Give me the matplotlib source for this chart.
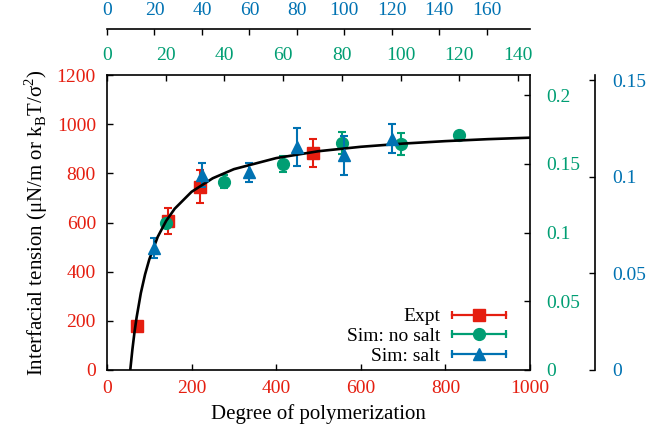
import matplotlib
matplotlib.use("Agg")
import matplotlib.pyplot as plt
from matplotlib.lines import Line2D
from matplotlib.legend_handler import HandlerBase

plt.rcParams["font.family"] = ["Liberation Serif", "DejaVu Serif"]
plt.rcParams["font.size"] = 14
plt.rcParams["mathtext.fontset"] = "custom"
plt.rcParams["mathtext.rm"] = "Liberation Serif"

RED   = "#e51e10"
GREEN = "#009e73"
BLUE  = "#0072b2"

# ── Data ─────────────────────────────────────────────────────
# experiment (bottom / left axes)
expt_N     = [70, 145, 219, 486]
expt_gamma = [179, 606, 746, 882]
expt_err   = [0, 51, 68, 58]

# simulation, no salt (green top / right axes)
nosalt_x   = [20, 40, 60, 80, 100, 120]
nosalt_y   = [0.1072, 0.1370, 0.1496, 0.1651, 0.1642, 0.1712]
nosalt_err = [0.002, 0.0048, 0.0058, 0.0082, 0.0079, 0.002]

# simulation, salt (blue outer top / right axes)
salt_x   = [20, 40, 60, 80, 100, 120]
salt_y   = [0.0630, 0.1009, 0.1022, 0.1155, 0.1110, 0.1197]
salt_err = [0.0053, 0.0060, 0.0047, 0.0099, 0.0101, 0.0076]

# fitted curve
fit_N     = [55, 60, 65, 70, 80, 90, 100, 120, 140, 160, 200, 250, 300,
             400, 500, 600, 700, 800, 900, 1000]
fit_gamma = [0, 83, 154, 214, 313, 389, 450, 542, 607, 656, 725, 780, 817,
             862, 890, 908, 921, 931, 939, 945]

xticks_main = [0, 200, 400, 600, 800, 1000]
yticks_main = [0, 200, 400, 600, 800, 1000, 1200]
xticks_green = [0, 20, 40, 60, 80, 100, 120, 140]
yticks_green = [0, 0.05, 0.1, 0.15, 0.2]
xticks_blue = [0, 20, 40, 60, 80, 100, 120, 140, 160]
yticks_blue = [0, 0.05, 0.1, 0.15]


class CapHandler(HandlerBase):
    """gnuplot-like legend sample: horizontal bar with end caps + marker"""
    def create_artists(self, legend, orig_handle, xdescent, ydescent,
                       width, height, fontsize, trans):
        c = orig_handle.get_color()
        y = height / 2 - ydescent
        x0, x1 = -xdescent, width - xdescent
        bar = Line2D([x0, x1], [y, y], color=c, lw=1.6)
        caps = Line2D([x0, x1], [y, y], ls="", marker="|", ms=6,
                      mew=1.6, color=c)
        mk = Line2D([(x0 + x1) / 2], [y], ls="", color=c,
                    marker=orig_handle.get_marker(),
                    ms=orig_handle.get_markersize())
        for a in (bar, caps, mk):
            a.set_transform(trans)
        return [bar, caps, mk]


fig = plt.figure(figsize=(6.68, 4.38), dpi=100)
rect = [107 / 668, 68 / 438, 423 / 668, 295 / 438]

# main axes: red
ax = fig.add_axes(rect)
ax.set_xlim(0, 1000)
ax.set_ylim(0, 1200)
ax.set_xticks(xticks_main)
ax.set_yticks(yticks_main)
ax.tick_params(direction="in", length=4, width=1, colors="black",
               labelcolor=RED, top=False, right=False)
ax.tick_params(axis="x", pad=7)
ax.tick_params(axis="y", pad=8)
for s in ax.spines.values():
    s.set_linewidth(1.2)
ax.set_xlabel("Degree of polymerization", fontsize=15, labelpad=5)
ax.set_ylabel("Interfacial tension (μN/m or k$_\\mathregular{B}$T/σ$^\\mathregular{2}$)",
              fontsize=15, labelpad=5)
ax.errorbar(expt_N, expt_gamma, yerr=expt_err, color=RED, ls="", marker="s",
            ms=8, elinewidth=1.5, capsize=3, capthick=1.5)

# green axes: top / right
axg = fig.add_axes(rect, frameon=False)
axg.set_xlim(0, 144.1)
axg.set_ylim(0, 0.2146)
axg.set_xticks(xticks_green)
axg.set_yticks(yticks_green)
axg.set_yticklabels(["0", "0.05", "0.1", "0.15", "0.2"])
axg.xaxis.tick_top()
axg.yaxis.tick_right()
axg.tick_params(direction="in", length=4, width=1, colors="black",
                labelcolor=GREEN)
axg.tick_params(axis="x", pad=8)
axg.tick_params(axis="y", pad=12)
axg.errorbar(nosalt_x, nosalt_y, yerr=nosalt_err, color=GREEN, ls="",
             marker="o", ms=8.5, elinewidth=1.5, capsize=3, capthick=1.5)

# blue axes: outer top / right
axb = fig.add_axes(rect, frameon=True)
axb.patch.set_visible(False)
axb.set_xlim(0, 178.2)
axb.set_ylim(0, 0.1526)
axb.set_xticks(xticks_blue)
axb.set_yticks(yticks_blue)
axb.set_yticklabels(["0", "0.05", "0.1", "0.15"])
axb.xaxis.tick_top()
axb.yaxis.tick_right()
axb.spines["left"].set_visible(False)
axb.spines["bottom"].set_visible(False)
axb.spines["top"].set_position(("outward", 33))
axb.spines["right"].set_position(("outward", 47))
for s in ("top", "right"):
    axb.spines[s].set_linewidth(1.2)
axb.tick_params(direction="in", length=4, width=1, colors="black",
                labelcolor=BLUE)
axb.tick_params(axis="x", pad=7)
axb.tick_params(axis="y", pad=12)
axb.errorbar(salt_x, salt_y, yerr=salt_err, color=BLUE, ls="", marker="^",
             ms=8, elinewidth=1.5, capsize=3, capthick=1.5)

# fit drawn last, on top of every marker, in main-axes data units
axb.plot(fit_N, fit_gamma, color="black", lw=1.9, transform=ax.transData)

# legend
handles = [
    Line2D([], [], color=RED, marker="s", ms=8),
    Line2D([], [], color=GREEN, marker="o", ms=8.5),
    Line2D([], [], color=BLUE, marker="^", ms=8),
]
labels = ["Expt", "Sim: no salt", "Sim: salt"]
axb.legend(handles, labels, loc="lower right", markerfirst=False,
           frameon=False, handler_map={Line2D: CapHandler()},
           handlelength=2.8, handletextpad=0.6, labelspacing=0.12,
           borderaxespad=0.3, bbox_to_anchor=(0.976, -0.03))

fig.savefig("out.png", dpi=100)
